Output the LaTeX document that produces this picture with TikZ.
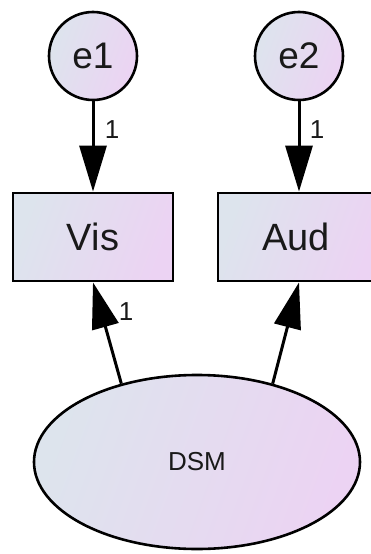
\documentclass[tikz,border=0pt]{standalone}
\usepackage{fontspec}
\setmainfont{Liberation Sans}
\usetikzlibrary{arrows.meta,shapes.geometric}
\definecolor{gradL}{RGB}{221,228,237}
\definecolor{gradR}{RGB}{236,211,243}
\definecolor{txt}{RGB}{25,25,25}
\tikzset{
  grad/.style={left color=gradL, right color=gradR, shading angle=70},
  errnode/.style={circle, draw=black, line width=2.6pt, grad, minimum size=88pt, inner sep=0pt, font=\fontsize{37}{40}\selectfont, text=txt},
  obsnode/.style={rectangle, draw=black, line width=2.8pt, grad, minimum height=88pt, inner sep=0pt, font=\fontsize{38}{40}\selectfont, text=txt},
  latnode/.style={ellipse, draw=black, line width=2.6pt, grad, minimum width=326pt, minimum height=174pt, inner sep=0pt, font=\fontsize{26}{28}\selectfont, text=txt},
  arr/.style={line width=3pt, -{Triangle[length=46pt,width=27pt]}},
  wlabel/.style={font=\fontsize{26}{28}\selectfont, text=txt, inner sep=0pt}
}
\begin{document}
\begin{tikzpicture}[x=1pt,y=-1pt]
\clip (0,0) rectangle (371,554);
\fill[white] (0,0) rectangle (371,554);
\node[errnode] (e1) at (93,56) {e1};
\node[errnode] (e2) at (299,56) {e2};
\node[obsnode, minimum width=160pt] (Vis) at (93,237) {Vis};
\node[obsnode, minimum width=162pt] (Aud) at (299,237) {\hspace*{-6pt}Aud};
\node[latnode] (DSM) at (197,462) {DSM};
\draw[arr] (e1) -- (Vis);
\draw[arr] (e2) -- (Aud);
\draw[arr] (DSM.134) -- (Vis.south);
\draw[arr] (DSM.46) -- (Aud.south);
\node[wlabel] (l1) at (112,130) {1};
\node[wlabel] (l2) at (317,130) {1};
\node[wlabel] (l3) at (126,312) {1};
\end{tikzpicture}
\end{document}
